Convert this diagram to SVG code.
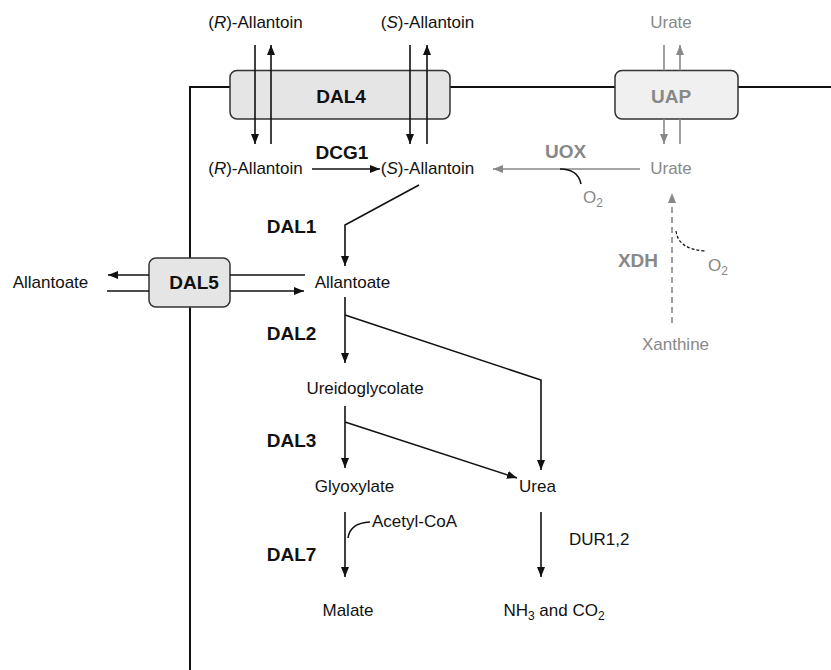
<svg xmlns="http://www.w3.org/2000/svg" width="831" height="670" viewBox="0 0 831 670">
<defs>
<marker id="ah" markerUnits="userSpaceOnUse" markerWidth="10" markerHeight="8" refX="10" refY="4" orient="auto"><path d="M0,0 L10,4 L0,8 z" fill="#111"/></marker>
<marker id="ahg" markerUnits="userSpaceOnUse" markerWidth="10" markerHeight="8" refX="10" refY="4" orient="auto"><path d="M0,0 L10,4 L0,8 z" fill="#888"/></marker>
<style>
text{font-family:"Liberation Sans",Arial,Helvetica,sans-serif;font-size:17px;fill:#111}
.b{font-weight:bold;font-size:19px}
.g{fill:#888}
.m{text-anchor:middle}
.arr{stroke:#111;stroke-width:1.6;fill:none;marker-end:url(#ah)}
.arrg{stroke:#888;stroke-width:1.6;fill:none;marker-end:url(#ahg)}
.lng{stroke:#888;stroke-width:1.6;fill:none}
.ln{stroke:#111;stroke-width:1.6;fill:none}
.mem{stroke:#111;stroke-width:2;fill:none}
.box{stroke:#333;stroke-width:1.5}
</style>
</defs>
<g id="membrane">
<path class="mem" d="M190,258 V87 H230 M450,87 H615 M738,87 H831 M190,307 V670"/>
</g>
<g id="DAL4"><rect class="box" x="230" y="70.5" width="220" height="48.5" rx="7" fill="#e5e5e5"/><text class="b m" x="341" y="103">DAL4</text></g>
<g id="UAP"><rect class="box" x="615" y="70.5" width="123" height="48.5" rx="7" fill="#f0f0f0"/><text class="b m g" x="671" y="103">UAP</text></g>
<g id="DAL5"><rect class="box" x="149" y="258" width="81" height="49" rx="7" fill="#e5e5e5"/><text class="b m" x="194" y="289">DAL5</text></g>
<g id="R-Allantoin-out"><text class="m" x="255.5" y="28">(<tspan font-style="italic">R</tspan>)-Allantoin</text></g>
<g id="S-Allantoin-out"><text class="m" x="427.5" y="28">(<tspan font-style="italic">S</tspan>)-Allantoin</text></g>
<g id="Urate-out"><text class="m g" x="671" y="28">Urate</text></g>
<g id="R-Allantoin-in"><text class="m" x="255.5" y="174">(<tspan font-style="italic">R</tspan>)-Allantoin</text></g>
<g id="DCG1"><text class="b m" x="342" y="159">DCG1</text></g>
<g id="S-Allantoin-in"><text class="m" x="427.5" y="174">(<tspan font-style="italic">S</tspan>)-Allantoin</text></g>
<g id="UOX"><text class="b m g" x="565.5" y="158">UOX</text></g>
<g id="O2-a"><text class="g" x="583" y="203">O<tspan font-size="12" dy="4">2</tspan></text></g>
<g id="Urate-in"><text class="m g" x="671" y="174">Urate</text></g>
<g id="XDH"><text class="b m g" x="638" y="267">XDH</text></g>
<g id="O2-b"><text class="g" x="708" y="271">O<tspan font-size="12" dy="4">2</tspan></text></g>
<g id="Xanthine"><text class="m g" x="675.5" y="350">Xanthine</text></g>
<g id="DAL1"><text class="b m" x="291.5" y="233">DAL1</text></g>
<g id="Allantoate-out"><text class="m" x="50.5" y="288">Allantoate</text></g>
<g id="Allantoate-in"><text class="m" x="352.5" y="288">Allantoate</text></g>
<g id="DAL2"><text class="b m" x="291.5" y="340">DAL2</text></g>
<g id="Ureidoglycolate"><text class="m" x="365" y="394">Ureidoglycolate</text></g>
<g id="DAL3"><text class="b m" x="291.5" y="447">DAL3</text></g>
<g id="Glyoxylate"><text class="m" x="354.5" y="492">Glyoxylate</text></g>
<g id="Urea"><text class="m" x="537.5" y="492">Urea</text></g>
<g id="Acetyl-CoA"><text x="372" y="527">Acetyl-CoA</text></g>
<g id="DAL7"><text class="b m" x="291.5" y="561">DAL7</text></g>
<g id="DUR12"><text x="569" y="545">DUR1,2</text></g>
<g id="Malate"><text class="m" x="348" y="616">Malate</text></g>
<g id="NH3-CO2"><text class="m" x="554" y="616">NH<tspan font-size="12" dy="4">3</tspan><tspan dy="-4"> and CO</tspan><tspan font-size="12" dy="4">2</tspan></text></g>
<g id="connectors">
<line class="arr" x1="255" y1="45" x2="255" y2="144"/>
<line class="arr" x1="271" y1="144" x2="271" y2="45"/>
<line class="arr" x1="410" y1="45" x2="410" y2="144"/>
<line class="arr" x1="427" y1="144" x2="427" y2="45"/>
<line class="lng" x1="664" y1="45" x2="664" y2="70.5"/>
<line class="arrg" x1="664" y1="119" x2="664" y2="144"/>
<line class="lng" x1="680" y1="144" x2="680" y2="119"/>
<line class="arrg" x1="680" y1="70.5" x2="680" y2="45"/>
<line class="arr" x1="312" y1="169" x2="380" y2="169"/>
<line class="arrg" x1="640" y1="169" x2="493" y2="169"/>
<path class="ln" d="M560,169 Q578,169 581,184" stroke-width="1.2"/>
<line class="arrg" x1="672" y1="323" x2="672" y2="193" stroke-dasharray="6,4"/>
<path d="M676,231 Q678,249 705,251" stroke="#111" stroke-width="1.2" fill="none" stroke-dasharray="3,2"/>
<polyline class="arr" points="419,185 345,225 345,266"/>
<line class="ln" x1="305" y1="275" x2="230" y2="275"/>
<line class="arr" x1="149" y1="275" x2="108" y2="275"/>
<line class="ln" x1="107" y1="291" x2="149" y2="291"/>
<line class="arr" x1="230" y1="291" x2="304" y2="291"/>
<line class="arr" x1="345" y1="297" x2="345" y2="363"/>
<polyline class="arr" points="345,315 541,380 541,470"/>
<line class="arr" x1="345" y1="406" x2="345" y2="468"/>
<polyline class="arr" points="345,422 517,478"/>
<line class="arr" x1="345" y1="512" x2="345" y2="577"/>
<path class="ln" d="M348,538 Q350,523 370,522" stroke-width="1.2"/>
<line class="arr" x1="541" y1="512" x2="541" y2="577"/>
</g>
</svg>
